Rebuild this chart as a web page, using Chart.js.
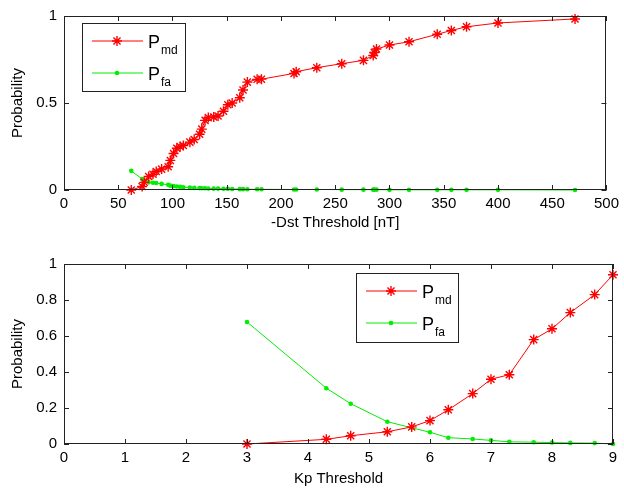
<!DOCTYPE html>
<html>
<head>
<meta charset="utf-8">
<script src="https://cdn.jsdelivr.net/npm/chart.js@4.4.0/dist/chart.umd.min.js"></script>
<style>
  body { margin: 0; background: #fff; }
  canvas { display: block; position: absolute; left: 0; }
  #dst-chart { top: 0; }
  #kp-chart { top: 245px; }
</style>
</head>
<body>
<canvas id="dst-chart" width="624" height="245"></canvas>
<canvas id="kp-chart" width="624" height="246"></canvas>
<script>
'use strict';

// ***************** DATA ***************** //

let dstThresholds = [62, 72, 74, 78, 82, 85, 90, 96, 98, 101, 104, 107, 110, 116, 120, 125, 127, 130, 133, 138,
  142, 147, 151, 155, 162, 165, 169, 178, 182, 212, 214, 233, 256, 276, 285, 286, 288, 300, 318, 344,
  357, 371, 400, 471];
let dstPmd = [0, 0.02, 0.044, 0.078, 0.09, 0.106, 0.12, 0.134, 0.17, 0.21, 0.24, 0.25, 0.256, 0.275, 0.29, 0.32, 0.35, 0.40, 0.416, 0.42,
  0.425, 0.453, 0.49, 0.5, 0.53, 0.575, 0.62, 0.636, 0.637, 0.67, 0.68, 0.703, 0.726, 0.745, 0.773, 0.79, 0.81, 0.833, 0.852, 0.895,
  0.917, 0.938, 0.96, 0.983];
let dstPfa = [0.11, 0.063, 0.05, 0.044, 0.042, 0.04, 0.035, 0.03, 0.025, 0.022, 0.02, 0.018, 0.016, 0.014, 0.012, 0.011, 0.01, 0.01, 0.009, 0.008,
  0.008, 0.007, 0.007, 0.006, 0.005, 0.005, 0.004, 0.004, 0.004, 0.003, 0.003, 0.003, 0.002, 0.002, 0.002, 0.002, 0.002, 0.001, 0.001, 0.001,
  0.001, 0.001, 0.001, 0];

let kpThresholds = [3, 4.3, 4.7, 5.3, 5.7, 6, 6.3, 6.7, 7, 7.3, 7.7, 8, 8.3, 8.7, 9];
let kpPmd = [0, 0.026, 0.046, 0.068, 0.095, 0.13, 0.19, 0.28, 0.36, 0.385, 0.58, 0.64, 0.73, 0.83, 0.94];
let kpPfa = [0.678, 0.31, 0.224, 0.124, 0.09, 0.065, 0.035, 0.028, 0.02, 0.012, 0.01, 0.008, 0.006, 0.005, 0];

let seriesSubscripts = ['md', 'fa'];
let axisTitles = ['-Dst Threshold [nT]', 'Kp Threshold', 'Probability'];

// ***************** STYLE ***************** //

const FONT = '"Liberation Sans Narrow", "Liberation Sans", Arial, sans-serif';
const RED = '#ff0000';
const GREEN = '#00ee00';
const AXIS_COLOR = '#222222';

function toPoints(xs, ys) {
  return xs.map((x, i) => ({ x: x, y: ys[i] }));
}

// matlab style: 1 not 1.0
function plainTick(value) {
  return String(Number(value.toFixed(2)));
}

// ***************** PLUGINS ***************** //

// boxed axes with inward ticks on all four sides
let matlabAxes = {
  id: 'matlabAxes',
  afterDatasetsDraw(chart) {
    let ctx = chart.ctx;
    let a = chart.chartArea;
    let xs = chart.scales.x;
    let ys = chart.scales.y;
    ctx.save();
    ctx.strokeStyle = AXIS_COLOR;
    ctx.lineWidth = 1;
    ctx.beginPath();
    for (let i = 0; i < xs.ticks.length; i++) {
      let px = Math.round(xs.getPixelForTick(i)) + 0.5;
      ctx.moveTo(px, a.bottom);
      ctx.lineTo(px, a.bottom - 5);
      ctx.moveTo(px, a.top);
      ctx.lineTo(px, a.top + 5);
    }
    for (let i = 0; i < ys.ticks.length; i++) {
      let py = Math.round(ys.getPixelForTick(i)) + 0.5;
      ctx.moveTo(a.left, py);
      ctx.lineTo(a.left + 5, py);
      ctx.moveTo(a.right, py);
      ctx.lineTo(a.right - 5, py);
    }
    ctx.stroke();
    ctx.strokeRect(Math.round(a.left) + 0.5, Math.round(a.top) + 0.5,
      Math.round(a.width) - 1, Math.round(a.height) - 1);
    ctx.restore();
  }
};

// legend with P + subscript
let subLegend = {
  id: 'subLegend',
  afterDraw(chart, args, opts) {
    let ctx = chart.ctx;
    ctx.save();
    ctx.fillStyle = '#fff';
    ctx.fillRect(opts.left, opts.top, opts.width, opts.height);
    ctx.strokeStyle = AXIS_COLOR;
    ctx.lineWidth = 1;
    ctx.strokeRect(opts.left + 0.5, opts.top + 0.5, opts.width, opts.height);
    chart.data.datasets.forEach((ds, i) => {
      let rowY = opts.top + 18 + i * 32;
      ctx.strokeStyle = ds.borderColor;
      ctx.fillStyle = ds.backgroundColor;
      ctx.lineWidth = 1;
      ctx.beginPath();
      ctx.moveTo(opts.left + 10, rowY);
      ctx.lineTo(opts.left + 61, rowY);
      ctx.stroke();
      ctx.lineWidth = ds.pointBorderWidth;
      Chart.helpers.drawPoint(ctx, {
        pointStyle: ds.pointStyle,
        radius: ds.pointRadius,
        rotation: 0,
        borderWidth: ds.pointBorderWidth
      }, opts.left + 35, rowY);
      ctx.fillStyle = '#000';
      ctx.textBaseline = 'alphabetic';
      ctx.font = '18px ' + FONT;
      ctx.fillText('P', opts.left + 66, rowY + 7);
      let w = ctx.measureText('P').width;
      ctx.font = '12px ' + FONT;
      ctx.fillText(seriesSubscripts[i], opts.left + 66 + w + 1, rowY + 13);
    });
    ctx.restore();
  }
};

// ***************** CHART BUILDER ***************** //

function makeChart(canvasId, xs, pmd, pfa, xCfg, yStep, legendBox, layout) {
  let ctx = document.getElementById(canvasId).getContext('2d');
  let chartObj = {
    type: 'scatter',
    data: {
      datasets: [{
        label: 'Pmd',
        data: toPoints(xs, pmd),
        showLine: true,
        borderColor: RED,
        backgroundColor: RED,
        borderWidth: 1,
        pointStyle: 'star',
        pointRadius: 5,
        pointBorderWidth: 1.4,
        clip: false
      },
      {
        label: 'Pfa',
        data: toPoints(xs, pfa),
        showLine: true,
        borderColor: GREEN,
        backgroundColor: GREEN,
        borderWidth: 1,
        pointStyle: 'circle',
        pointRadius: 2.3,
        pointBorderWidth: 0,
        clip: false
      }]
    },
    options: {
      responsive: false,
      animation: false,
      events: [],
      layout: { padding: { top: layout.top, right: 11, left: 0, bottom: 0 } },
      plugins: {
        legend: { display: false },
        tooltip: { enabled: false },
        subLegend: legendBox
      },
      scales: {
        x: {
          type: 'linear',
          min: xCfg.min,
          max: xCfg.max,
          ticks: { stepSize: xCfg.step, color: '#000', padding: 5, callback: plainTick, font: { family: FONT, size: 15 } },
          grid: { display: false, drawTicks: false },
          border: { display: false },
          title: { display: true, text: xCfg.title, color: '#000', padding: { top: 0, bottom: layout.titleBottom }, font: { family: FONT, size: 15 } },
          afterFit(scale) { scale.height = layout.xHeight; }
        },
        y: {
          min: 0,
          max: 1,
          ticks: { stepSize: yStep, color: '#000', padding: 7, callback: plainTick, font: { family: FONT, size: 15 } },
          grid: { display: false, drawTicks: false },
          border: { display: false },
          title: { display: true, text: axisTitles[2], color: '#000', padding: { top: 9, bottom: 0 }, font: { family: FONT, size: 15 } },
          afterFit(scale) { scale.width = 64; }
        }
      }
    },
    plugins: [matlabAxes, subLegend]
  };
  return new Chart(ctx, chartObj);
}

makeChart('dst-chart', dstThresholds, dstPmd, dstPfa,
  { min: 0, max: 500, step: 50, title: axisTitles[0] }, 0.5,
  { left: 82, top: 23, width: 103, height: 68 },
  { top: 13, xHeight: 55, titleBottom: 13 });

makeChart('kp-chart', kpThresholds, kpPmd, kpPfa,
  { min: 0, max: 9, step: 1, title: axisTitles[1] }, 0.2,
  { left: 356, top: 28, width: 102, height: 69 },
  { top: 19, xHeight: 47, titleBottom: 3 });
</script>
</body>
</html>
